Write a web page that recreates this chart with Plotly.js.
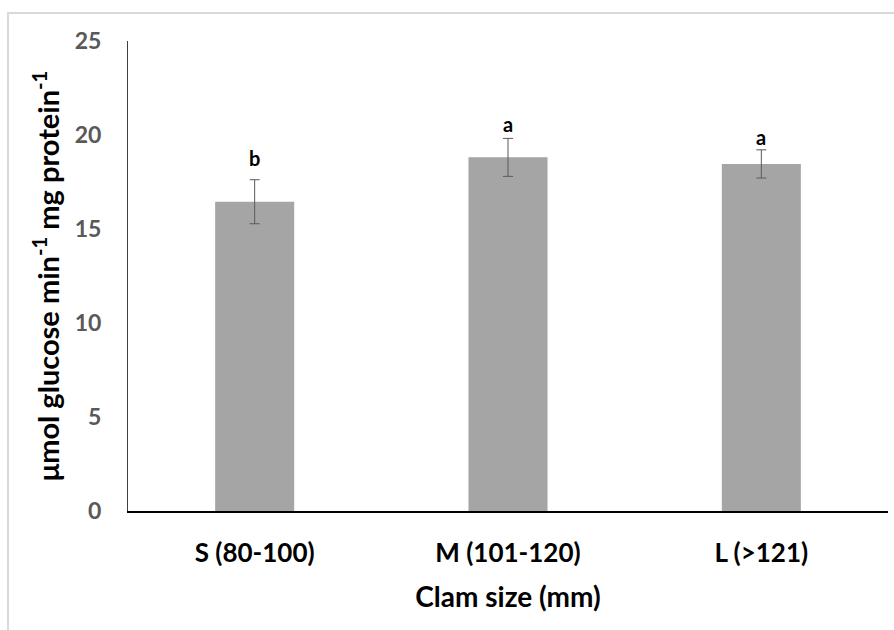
<!DOCTYPE html>
<html>
<head>
<meta charset="utf-8">
<script src="https://cdn.plot.ly/plotly-3.0.1.min.js"></script>
<style>
  html, body { margin: 0; padding: 0; background: #fff; }
  #wrap { position: relative; width: 894px; height: 630px; }
  #frame { position: absolute; left: 7px; top: 12px; right: -10px; bottom: -10px;
           border-top: 2px solid #d9d9d9; border-left: 2px solid #d9d9d9; pointer-events: none; }
  #chart { position: absolute; left: 0; top: 0; width: 894px; height: 630px; }
</style>
</head>
<body>
<div id="wrap">
  <div id="chart"></div>
  <div id="frame"></div>
</div>
<script>
// Data
const categories = ["S (80-100)", "M (101-120)", "L (>121)"];
const meanValues = [16.45, 18.81, 18.46];
const errorValues = [1.17, 1.01, 0.75];
const sigLetters = ["b", "a", "a"];
const letterY = [18.78, 20.59, 19.89];
const yTickVals = [0, 5, 10, 15, 20, 25];

const FONT = "Lato, 'Open Sans', sans-serif";

const trace = {
  type: "bar",
  x: categories,
  y: meanValues,
  marker: { color: "#a5a5a5", line: { width: 0 } },
  error_y: {
    type: "data",
    array: errorValues,
    visible: true,
    color: "#595959",
    thickness: 1,
    width: 5
  },
  hoverinfo: "none"
};

const annotations = categories.map((c, i) => ({
  x: c,
  y: letterY[i],
  xref: "x",
  yref: "y",
  text: "<b>" + sigLetters[i] + "</b>",
  showarrow: false,
  yanchor: "middle",
  font: { family: FONT, size: 20, color: "#000000" }
}));

const layout = {
  width: 894,
  height: 630,
  margin: { l: 128, r: 6, t: 41, b: 119 },
  paper_bgcolor: "rgba(0,0,0,0)",
  plot_bgcolor: "#ffffff",
  showlegend: false,
  bargap: 0.688,
  xaxis: {
    type: "category",
    showline: true,
    linecolor: "#000000",
    linewidth: 1.5,
    ticks: "",
    showgrid: false,
    zeroline: false,
    tickfont: { family: FONT, size: 26, color: "#000000", weight: "bold" },
    ticklabelstandoff: 18,
    title: {
      text: "<b>Clam size (mm)</b>",
      font: { family: FONT, size: 28, color: "#000000" },
      standoff: 20
    }
  },
  yaxis: {
    range: [0, 25],
    tickvals: yTickVals,
    ticktext: yTickVals.map(String),
    showline: true,
    linecolor: "#404040",
    linewidth: 1,
    ticks: "",
    showgrid: false,
    zeroline: false,
    tickfont: { family: FONT, size: 23, color: "#595959", weight: "bold" },
    ticklabelstandoff: 21,
    title: {
      text: "<b>μmol glucose min<sup>-1</sup> mg protein<sup>-1</sup></b>",
      font: { family: FONT, size: 29, color: "#000000" },
      standoff: 6
    }
  },
  annotations: annotations
};

Plotly.newPlot("chart", [trace], layout, { displayModeBar: false, staticPlot: true });
</script>
</body>
</html>
